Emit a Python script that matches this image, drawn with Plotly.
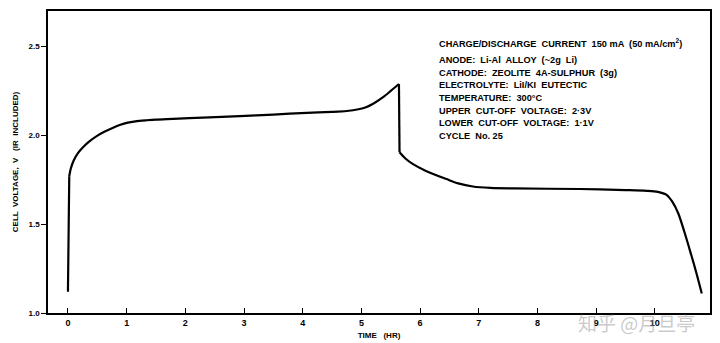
import plotly.graph_objects as go

# Charge curve (time in hours, voltage in V)
rise_t = [0.0, 0.022]
rise_v = [1.12, 1.77]
charge_t = [0.022, 0.05, 0.1, 0.17, 0.26, 0.36, 0.49, 0.62, 0.77, 0.88, 1.0, 1.15, 1.34, 1.5, 1.79,
            2.3, 2.93, 3.5, 4.07, 4.5, 4.75, 4.95, 5.09, 5.2, 5.37, 5.5, 5.64]
charge_v = [1.77, 1.815, 1.86, 1.90, 1.935, 1.965, 1.996, 2.02, 2.043, 2.058, 2.070, 2.079, 2.085, 2.089, 2.093,
            2.100, 2.108, 2.117, 2.127, 2.132, 2.137, 2.147, 2.160, 2.178, 2.215, 2.25, 2.289]
drop_t = [5.64, 5.65]
drop_v = [2.289, 1.905]
# Discharge curve
discharge_t = [5.65, 5.75, 5.88, 6.1, 6.45, 6.65, 6.9, 7.2, 7.59, 8.72, 9.5, 9.86, 10.05, 10.2, 10.3, 10.4,
               10.5, 10.6, 10.7, 10.80]
discharge_v = [1.905, 1.87, 1.838, 1.80, 1.754, 1.73, 1.712, 1.704, 1.701, 1.698, 1.692, 1.688, 1.682, 1.665, 1.625,
               1.56, 1.46, 1.35, 1.235, 1.11]

x_ticks = [0, 1, 2, 3, 4, 5, 6, 7, 8, 9, 10]
y_ticks = [1.0, 1.5, 2.0, 2.5]
y_tick_labels = ["1.0", "1.5", "2.0", "2.5"]

info_lines = [
    "CHARGE/DISCHARGE  CURRENT  150 mA  (50 mA/cm<sup>2</sup>)",
    "ANODE:  Li-Al  ALLOY  (~2g  Li)",
    "CATHODE:  ZEOLITE  4A-SULPHUR  (3g)",
    "ELECTROLYTE:  LiI/KI  EUTECTIC",
    "TEMPERATURE:  300°C",
    "UPPER  CUT-OFF  VOLTAGE:  2·3V",
    "LOWER  CUT-OFF  VOLTAGE:  1·1V",
    "CYCLE  No. 25",
]

fig = go.Figure()
line_style = dict(color="black", width=2.2)
fig.add_trace(go.Scatter(x=rise_t, y=rise_v, mode="lines", line=line_style, hoverinfo="skip"))
fig.add_trace(go.Scatter(x=charge_t, y=charge_v, mode="lines",
                         line=dict(line_style, shape="spline", smoothing=0.8), hoverinfo="skip"))
fig.add_trace(go.Scatter(x=drop_t, y=drop_v, mode="lines", line=line_style, hoverinfo="skip"))
fig.add_trace(go.Scatter(x=discharge_t, y=discharge_v, mode="lines",
                         line=dict(line_style, shape="spline", smoothing=0.8), hoverinfo="skip"))

font_main = "Liberation Sans, Arial, sans-serif"

fig.update_layout(
    width=720, height=343,
    margin=dict(l=48, r=10, t=11, b=30),
    paper_bgcolor="white", plot_bgcolor="white",
    showlegend=False,
    font=dict(family=font_main, color="black", size=8),
    xaxis=dict(range=[-0.34, 10.94], tickvals=x_ticks, ticktext=[str(v) for v in x_ticks],
               ticks="inside", ticklen=5, tickwidth=1.2, tickcolor="black",
               showline=True, linecolor="black", linewidth=1.5, mirror=True,
               showgrid=False, zeroline=False, automargin=False,
               tickfont=dict(size=9, family=font_main, weight="bold", color="black"),
               title=dict(text="<b>TIME   (HR)</b>", font=dict(size=8, color="black"), standoff=6)),
    yaxis=dict(range=[1.0, 2.7], tickvals=y_ticks, ticktext=y_tick_labels,
               ticks="outside", ticklen=5, tickwidth=1.2, tickcolor="black",
               showline=True, linecolor="black", linewidth=1.5, mirror=True,
               showgrid=False, zeroline=False, automargin=False,
               tickfont=dict(size=8, family=font_main, weight="bold", color="black"),
               title=dict(text="<b>CELL  VOLTAGE,  V   (IR  INCLUDED)</b>",
                          font=dict(size=8, color="black"), standoff=9)),
)

ys = [0.895, 0.838, 0.796, 0.754, 0.712, 0.670, 0.628, 0.586]
for txt, yy in zip(info_lines, ys):
    fig.add_annotation(x=0.587, y=yy, xref="paper", yref="paper", text=txt,
                       showarrow=False, xanchor="left", yanchor="middle",
                       font=dict(size=9.2, family=font_main, color="black", weight="bold"))

fig.add_annotation(x=0.98, y=-0.03, xref="paper", yref="paper", text="知乎 @月旦亭",
                   showarrow=False, font=dict(size=19, family="Noto Sans CJK SC", color="rgba(150,150,150,0.5)"),
                   xanchor="right", yanchor="middle")

fig.write_html("out.html")
